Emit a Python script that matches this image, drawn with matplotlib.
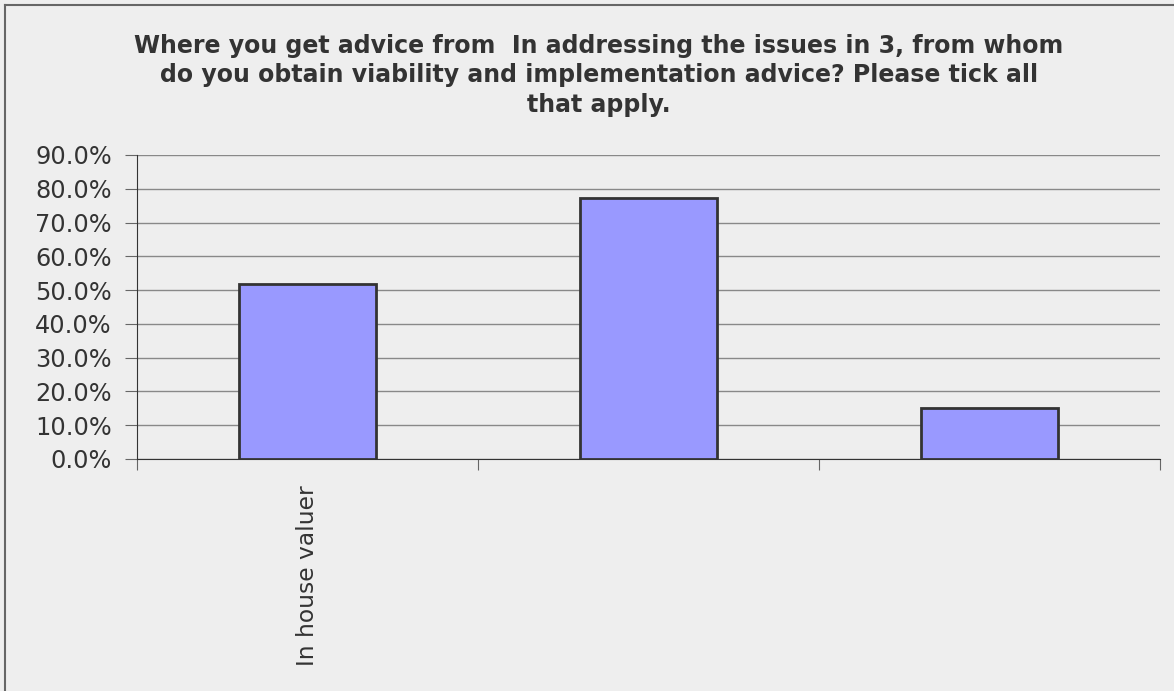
import matplotlib
matplotlib.use("Agg")
import matplotlib.pyplot as plt
from matplotlib.lines import Line2D
from matplotlib.ticker import PercentFormatter

categories = ["In house valuer", "", ""]
values = [0.518, 0.773, 0.151]
yticks = [0.0, 0.1, 0.2, 0.3, 0.4, 0.5, 0.6, 0.7, 0.8, 0.9]
title = ("Where you get advice from  In addressing the issues in 3, from whom\n"
         "do you obtain viability and implementation advice? Please tick all\n"
         "that apply.")

plt.rcParams['font.family'] = ['DejaVu Sans']
W, H = 1174, 691
fig = plt.figure(figsize=(W / 100, H / 100), dpi=100, facecolor="#eeeeee")
ax = fig.add_axes([137 / W, 1 - 459 / H, (1160 - 137) / W, (459 - 155) / H])
ax.set_facecolor("#eeeeee")

x = list(range(len(categories)))
ax.bar(x, values, width=0.4, color="#9999ff", edgecolor="#333333", linewidth=2, zorder=3)

ax.set_xlim(-0.5, len(categories) - 0.5)
ax.set_ylim(0, 0.9)
ax.set_yticks(yticks)
ax.yaxis.set_major_formatter(PercentFormatter(1.0, decimals=1))
ax.grid(axis="y", color="#888888", linewidth=1, zorder=0)
ax.set_axisbelow(True)

ax.set_xticks([i - 0.5 for i in range(len(categories) + 1)], minor=False)
ax.set_xticklabels([])
ax.set_xticks(x, minor=True)
ax.set_xticklabels(categories, minor=True, rotation=90, fontsize=16.8, color="#333333")
ax.tick_params(axis="x", which="minor", length=0, pad=19)
ax.tick_params(axis="x", which="major", length=8, color="#666666")
ax.tick_params(axis="y", length=9, color="#666666", labelsize=17.3, labelcolor="#333333", pad=9)

for s in ["top", "right"]:
    ax.spines[s].set_visible(False)
ax.spines["left"].set_color("#333333")
ax.spines["bottom"].set_color("#333333")

fig.text(599 / W, 1 - 34 / H, title, ha="center", va="top", fontsize=17,
         fontweight="bold", color="#333333", multialignment="center", linespacing=1.28)

# frame: top and left edges visible
fig.lines.append(Line2D([4.5 / W, 4.5 / W], [0, 1 - 5 / H], transform=fig.transFigure,
                        color="#666666", linewidth=1.5))
fig.lines.append(Line2D([4.5 / W, 1], [1 - 5 / H, 1 - 5 / H], transform=fig.transFigure,
                        color="#666666", linewidth=1.5))

fig.savefig("out.png", dpi=100, facecolor=fig.get_facecolor())
